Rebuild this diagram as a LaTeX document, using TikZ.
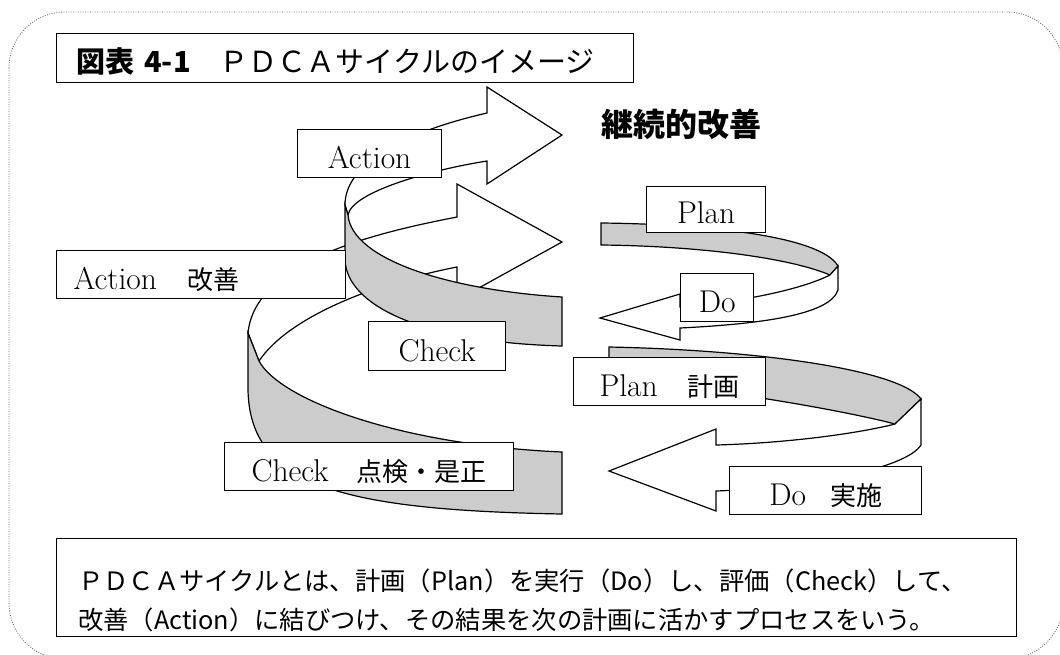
\documentclass[tikz,border=0pt]{standalone}
\usepackage{fontspec}
\newfontfamily\jp{Noto Sans CJK JP}
\definecolor{band}{RGB}{204,204,204}
\definecolor{framec}{RGB}{110,110,110}
\begin{document}
\begin{tikzpicture}[x=1pt,y=-1pt,
  rib/.style={draw=black,line width=1.2pt,line join=miter,miter limit=10},
  lbl/.style={draw=black,fill=white,line width=1.3pt,inner sep=0pt,anchor=north west,
    minimum height=48pt,text height=33pt,text depth=4pt,align=center,
    font=\fontsize{31.5}{33}\selectfont},
  jpl/.style={font=\jp\fontsize{25.3}{30}\selectfont},
  txt/.style={anchor=base west,inner sep=0pt}
]
\useasboundingbox (0,0) rectangle (1060,654);
\draw[framec, line width=0.9pt, dash pattern=on 0.9pt off 1.5pt, rounded corners=56pt] (9,12) rectangle (1063,659);

% loop B back (lower right-pointing arrow)
\draw[rib,fill=white] (457,217) .. controls (380,232) and (255,260) .. (248,333) -- (259,361) .. controls (290,315) and (380,282) .. (457,267) -- (457,300) -- (562,242) -- (457,184) -- cycle;
% loop A back (upper right-pointing arrow)
\draw[rib,fill=white] (345,205) .. controls (345,165) and (400,133) .. (487,113) -- (487,87) -- (562,135) -- (487,184) -- (487,161) .. controls (430,170) and (352,192) .. (348,215) -- cycle;
% loop A front band
\draw[rib,fill=band] (345,205) -- (348,215) .. controls (352,260) and (450,290) .. (562,297) -- (562,346) .. controls (420,342) and (347,305) .. (345,260) -- cycle;
% loop B front band
\draw[rib,fill=band] (248,333) -- (259,361) .. controls (280,400) and (400,445) .. (562,452) -- (562,514) .. controls (340,510) and (250,485) .. (248,390) -- cycle;
% loop C
\draw[rib,fill=band] (601,223) .. controls (700,224) and (820,235) .. (838,266) -- (830,275) .. controls (790,258) and (700,246) .. (601,245) -- cycle;
\draw[rib,fill=white] (838,266) -- (838,290) .. controls (830,315) and (760,324) .. (680,328) -- (680,340) -- (600,318) -- (680,294) -- (680,307) .. controls (740,302) and (800,290) .. (830,275) -- cycle;
% loop D
\draw[rib,fill=band] (609,347) .. controls (760,350) and (900,370) .. (921,399) -- (895,424) .. controls (850,412) and (720,388) .. (609,380) -- cycle;
\draw[rib,fill=white] (921,399) -- (921,445) .. controls (905,470) and (800,488) .. (716,491) -- (716,511) -- (609,471) -- (716,429) -- (716,445) .. controls (790,443) and (860,433) .. (895,424) -- cycle;

% title
\node[lbl,minimum width=577pt,minimum height=49pt,text width=537pt,inner xsep=20pt,align=left,font=\jp\fontsize{29}{31}\selectfont] (title) at (56,33) {{\bfseries 図表 4-1}　ＰＤＣＡサイクルのイメージ};
\node[txt,font=\jp\bfseries\fontsize{32}{34}\selectfont] (kaizen) at (601,136) {継続的改善};

% labels
\node[lbl,minimum width=144pt] (actS) at (297,129) {Action};
\node[lbl,minimum width=289pt,text width=255pt,inner xsep=17pt,align=left] (actL) at (56,250) {Action\hspace{30pt}{\jp\fontsize{26}{30}\selectfont 改善}};
\node[lbl,minimum width=137pt,minimum height=49pt,text height=34pt] (chkS) at (368,321) {Check};
\node[lbl,minimum width=289pt] (chkL) at (224,442) {Check\hspace{28pt}{\jp\fontsize{26}{30}\selectfont 点検・是正}};
\node[lbl,minimum width=119pt,minimum height=46pt,text height=31pt] (planS) at (646,186) {Plan};
\node[lbl,minimum width=73pt] (doS) at (680,273) {Do};
\node[lbl,minimum width=192pt] (planL) at (573,357) {Plan\hspace{30pt}{\jp\fontsize{26}{30}\selectfont 計画}};
\node[lbl,minimum width=192pt] (doL) at (729,466) {Do\hspace{24pt}{\jp\fontsize{26}{30}\selectfont 実施}};

% description
\node[lbl,minimum width=960pt,minimum height=98pt,text height=0pt,text depth=0pt] (desc) at (56,538) {};
\node[txt,jpl] (l1) at (78,590) {ＰＤＣＡサイクルとは、計画（Plan）を実行（Do）し、評価（Check）して、};
\node[txt,jpl] (l2) at (78,629) {改善（Action）に結びつけ、その結果を次の計画に活かすプロセスをいう。};
\end{tikzpicture}
\end{document}
